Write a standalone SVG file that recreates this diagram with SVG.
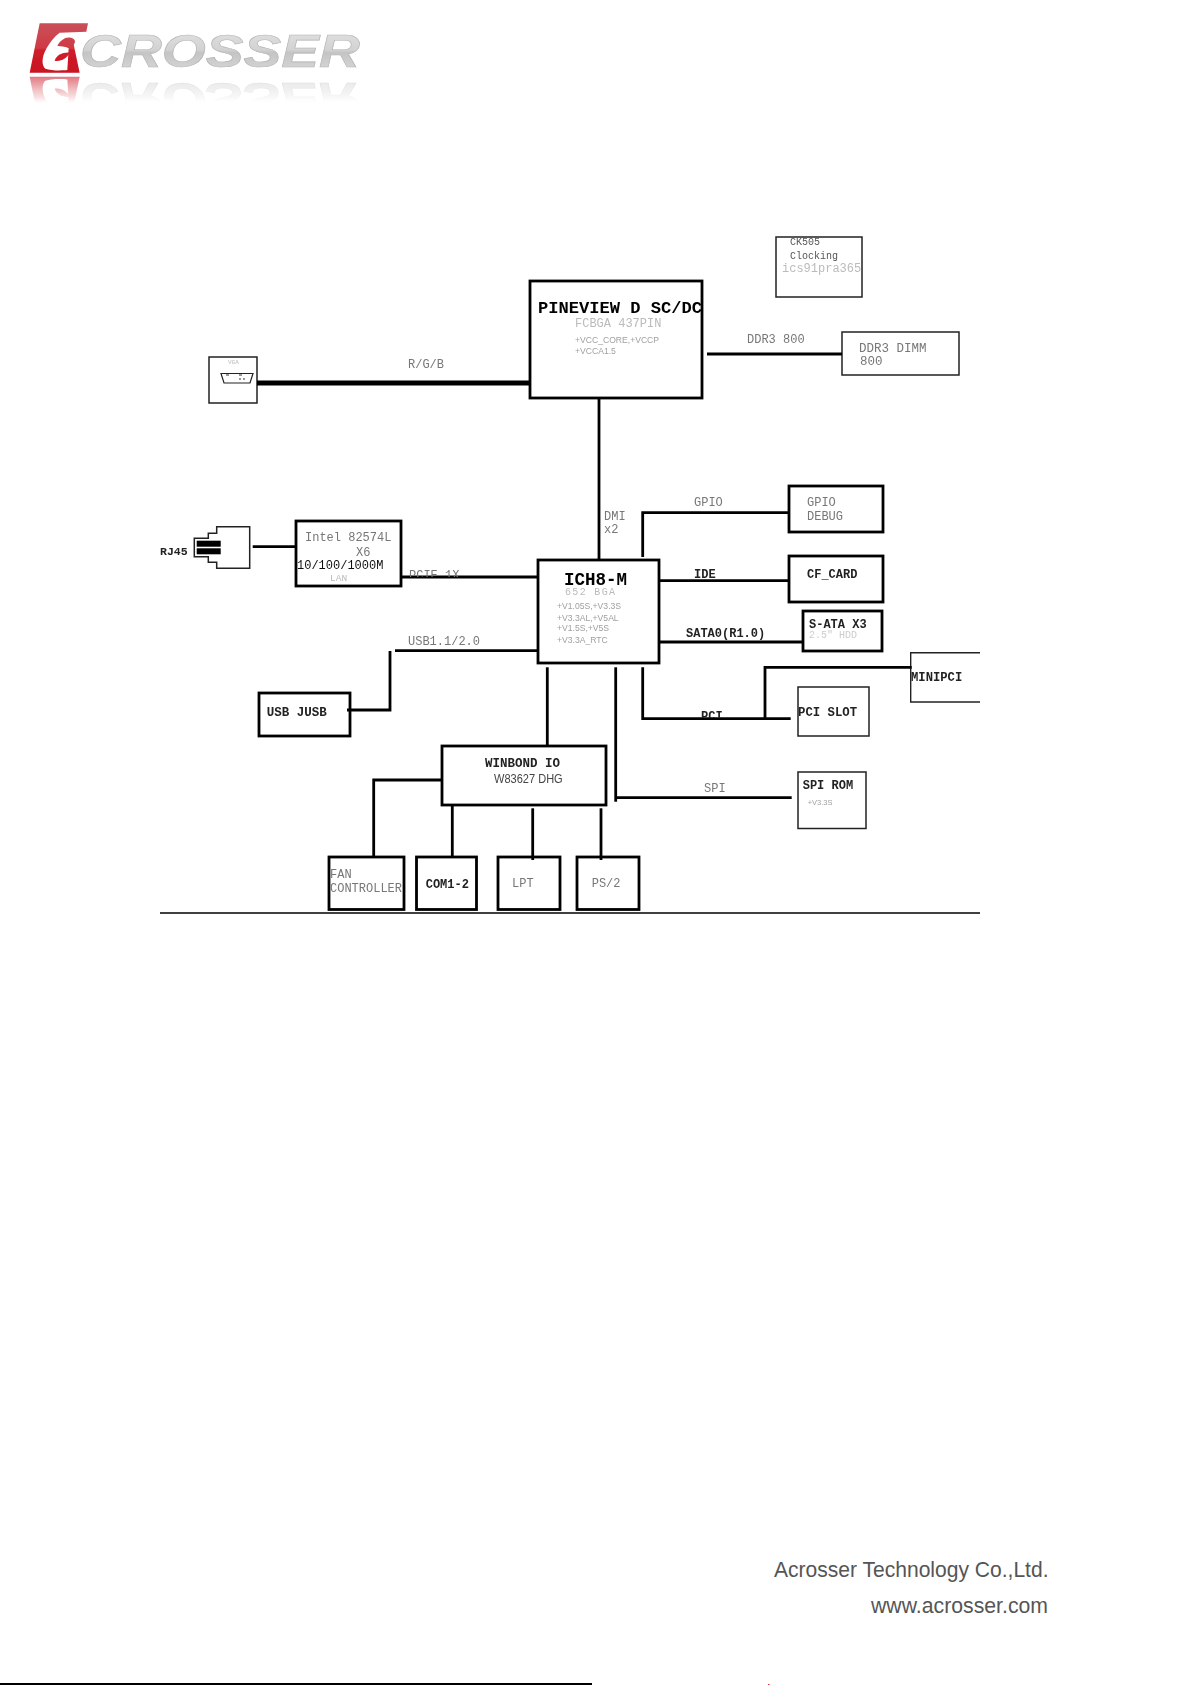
<svg xmlns="http://www.w3.org/2000/svg" xmlns:xlink="http://www.w3.org/1999/xlink" width="1191" height="1685" viewBox="0 0 1191 1685">
<style>
text{font-family:"Liberation Mono",monospace;font-size:12px;fill:#777;white-space:pre}
.d{fill:#222;font-weight:bold}
.h{font-size:17.1px;fill:#000;font-weight:bold}
.l{fill:#bbb}
.s{font-family:"Liberation Sans",sans-serif;font-size:8.6px;fill:#a0a0a0}
.b{fill:#fff;stroke:#000;stroke-width:2.8}
.t{fill:#fff;stroke:#222;stroke-width:1.5}
.c{fill:none;stroke:#000;stroke-width:2.8}
.f{font-family:"Liberation Sans",sans-serif;font-size:22px;fill:#555}
</style>
<defs>
<filter id="soft" filterUnits="userSpaceOnUse" x="0" y="0" width="1191" height="1685"><feGaussianBlur stdDeviation="0.35"/></filter>
<filter id="softer" filterUnits="userSpaceOnUse" x="0" y="0" width="400" height="130"><feGaussianBlur stdDeviation="0.5"/></filter>
<linearGradient id="red" x1="0" y1="0" x2="0" y2="1"><stop offset="0" stop-color="#c9505a"/><stop offset=".5" stop-color="#cf3a44"/><stop offset=".55" stop-color="#d01c2a"/><stop offset="1" stop-color="#c81422"/></linearGradient>
<linearGradient id="grey" x1="0" y1="0" x2="0" y2="1"><stop offset="0" stop-color="#e6e6e6"/><stop offset=".5" stop-color="#d2d2d2"/><stop offset=".55" stop-color="#c4c4c4"/><stop offset="1" stop-color="#dcdcdc"/></linearGradient>
<linearGradient id="fade" gradientUnits="userSpaceOnUse" x1="0" y1="75" x2="0" y2="103"><stop offset="0" stop-color="#fff" stop-opacity=".6"/><stop offset="1" stop-color="#fff" stop-opacity="0"/></linearGradient>
<mask id="fm" maskUnits="userSpaceOnUse" x="0" y="70" width="400" height="40"><rect x="0" y="70" width="400" height="40" fill="url(#fade)"/></mask>
<clipPath id="cPine"><rect x="530" y="281" width="172" height="117"/></clipPath>
<clipPath id="cLan"><rect x="296" y="521" width="105" height="65"/></clipPath>
<clipPath id="cPcie"><rect x="400" y="560" width="70" height="17"/></clipPath>
<clipPath id="cPci"><rect x="690" y="700" width="40" height="18"/></clipPath>
<clipPath id="cMini"><rect x="910" y="652" width="71" height="51"/></clipPath>
<clipPath id="cCk"><rect x="776" y="237" width="86" height="60"/></clipPath>
</defs>
<g id="logo" filter="url(#softer)">
<g id="logoArt">
<text x="80" y="66.5" textLength="280" lengthAdjust="spacingAndGlyphs" style="font-family:'Liberation Sans',sans-serif;font-weight:bold;font-style:italic;font-size:47px;fill:url(#grey);stroke:#b4b4b4;stroke-width:.6">CROSSER</text>
<g transform="translate(28 20) scale(.3333)">
<path d="M35,10 L180,10 L175,35 L95,38 C78,50 62,72 52,92 C42,112 40,135 52,146 C68,152 100,152 118,150 L122,85 C110,78 95,80 88,78 C92,68 100,60 112,54 C124,50 140,54 141,64 C141,70 136,74 138,78 L155,158 L5,158 Z" fill="url(#red)"/>
<path d="M80,122 C85,105 105,96 126,98 C118,112 100,126 80,122Z" fill="#d01c2a"/>
</g>
</g>
<g mask="url(#fm)"><use xlink:href="#logoArt" href="#logoArt" transform="translate(0 149.5) scale(1 -1)"/></g>
</g>
<g filter="url(#soft)">
<g id="pineview"><rect class="b" x="530" y="281" width="172" height="117"/>
<text class="h" x="538" y="313" clip-path="url(#cPine)">PINEVIEW D SC/DC</text>
<text class="l" x="575" y="327">FCBGA 437PIN</text>
<text class="s" x="575" y="343">+VCC_CORE,+VCCP</text>
<text class="s" x="575" y="354">+VCCA1.5</text></g>
<g id="ck505"><rect class="t" x="776" y="237" width="86" height="60"/>
<text x="790" y="245" style="font-size:10px;fill:#555">CK505</text>
<text x="790" y="259" style="font-size:10px;fill:#555">Clocking</text>
<text class="l" x="782" y="272" clip-path="url(#cCk)">ics91pra365</text></g>
<g id="ddr3"><rect class="t" x="842" y="332" width="117" height="43"/>
<text x="859" y="352" style="font-size:12.5px">DDR3 DIMM</text><text x="860" y="365" style="font-size:12.5px">800</text></g>
<g id="vga"><rect class="t" x="209" y="357" width="48" height="46"/>
<text class="l" x="228" y="364" style="font-size:6px">VGA</text>
<path d="M221,373.5 H253 L250,383 H224 Z" fill="#fff" stroke="#222" stroke-width="1.2"/>
<path d="M226,375 h3 M239,375 h3 M239,379 h2 M243,379 h2" stroke="#333" stroke-width="1"/></g>
<g id="rj45">
<text class="d" x="160" y="555" style="font-size:11.5px">RJ45</text>
<path d="M216.7,526.7 H249.7 V568.3 H216.7 V562.3 H208.3 V556.7 H194.3 V538.3 H208.3 V533.3 H216.7 Z" fill="#fff" stroke="#222" stroke-width="1.5"/>
<rect x="196.7" y="540.7" width="24" height="6" fill="#000"/><rect x="196.7" y="548.3" width="24" height="6" fill="#000"/></g>
<g id="intel"><rect class="b" x="296" y="521" width="105" height="65"/>
<text x="305" y="541">Intel 82574L</text><text x="356" y="555.7">X6</text>
<text x="297" y="568.7" clip-path="url(#cLan)" style="fill:#111">10/100/1000M</text>
<text class="l" x="330" y="580.7" style="font-size:9.5px">LAN</text></g>
<g id="ich8"><rect class="b" x="538" y="560" width="121" height="103"/>
<text class="h" x="564" y="585" style="font-size:17.5px">ICH8-M</text>
<text class="l" x="565" y="595" textLength="50" lengthAdjust="spacing" style="font-size:10px">652 BGA</text>
<text class="s" x="557" y="609">+V1.05S,+V3.3S</text>
<text class="s" x="557" y="621">+V3.3AL,+V5AL</text>
<text class="s" x="557" y="631">+V1.5S,+V5S</text>
<text class="s" x="557" y="643">+V3.3A_RTC</text></g>
<g id="gpio-debug"><rect class="b" x="789" y="486" width="94" height="46"/>
<text x="807" y="506">GPIO</text><text x="807" y="520">DEBUG</text></g>
<g id="cf-card"><rect class="b" x="789" y="556" width="94" height="46"/>
<text class="d" x="807" y="577.7">CF_CARD</text></g>
<g id="sata"><rect class="b" x="803" y="611" width="79" height="40"/>
<text class="d" x="809" y="627.7">S-ATA X3</text>
<text class="l" x="809" y="638" style="font-size:10px;fill:#ccc">2.5" HDD</text></g>
<g id="minipci"><path d="M980,652.7 H910.7 V702 H980" fill="none" stroke="#222" stroke-width="1.4"/>
<text class="d" x="911" y="680.7" clip-path="url(#cMini)" style="font-size:12.2px">MINIPCI</text></g>
<g id="pci-slot"><rect class="t" x="798" y="687" width="71" height="49"/>
<text class="d" x="798" y="716" style="font-size:12.3px">PCI SLOT</text></g>
<g id="usb-jusb"><rect class="b" x="259" y="693" width="91" height="43"/>
<text class="d" x="266.7" y="716" style="font-size:12.5px">USB JUSB</text></g>
<g id="winbond"><rect class="b" x="442" y="746" width="164" height="59"/>
<text class="d" x="485" y="766.7" style="font-size:12.5px">WINBOND IO</text>
<text x="494" y="782.7" textLength="68.7" lengthAdjust="spacingAndGlyphs" style="font-family:'Liberation Sans',sans-serif;font-size:12.5px;fill:#444">W83627 DHG</text></g>
<g id="spi-rom"><rect class="t" x="798" y="772" width="68" height="56.5"/>
<text class="d" x="802.7" y="789">SPI ROM</text>
<text class="s" x="807.7" y="805" style="font-size:7.5px">+V3.3S</text></g>
<g id="fan"><rect class="b" x="329" y="857" width="75" height="52.5"/>
<text x="330" y="878">FAN</text><text x="330" y="891.7">CONTROLLER</text></g>
<g id="com"><rect class="b" x="416.5" y="857" width="60" height="52.5"/>
<text class="d" x="425.7" y="888.3">COM1-2</text></g>
<g id="lpt"><rect class="b" x="498" y="857" width="62" height="52.5"/>
<text x="512" y="887.3">LPT</text></g>
<g id="ps2"><rect class="b" x="577" y="857" width="62" height="52.5"/>
<text x="591.7" y="887.3">PS/2</text></g>
<g id="connectors">
<path class="c" d="M707,354 H842"/>
<path class="c" d="M599,398 V560"/>
<path d="M257,383 H530" fill="none" stroke="#000" stroke-width="5"/>
<path class="c" d="M252.7,546.7 H296"/>
<path class="c" d="M401,577 H538"/>
<path class="c" d="M642.7,557 V512.7 H789"/>
<path class="c" d="M659,580.7 H789"/>
<path class="c" d="M659,642 H803"/>
<path class="c" d="M765,718 V667.3 H911.7"/>
<path class="c" d="M642.7,667.3 V718.7 H790.7"/>
<path class="c" d="M395,650.7 H538"/>
<path class="c" d="M390,651 V710 H347"/>
<path class="c" d="M547.3,667.3 V746"/>
<path class="c" d="M615.7,667.3 V801.7"/>
<path class="c" d="M615.7,797.7 H791.7"/>
<path class="c" d="M442,780 H373.7 V857"/>
<path class="c" d="M452.3,805 V857"/>
<path class="c" d="M532.7,808.3 V860"/>
<path class="c" d="M601,808.3 V860"/>
<path d="M160,913 H980" fill="none" stroke="#000" stroke-width="1.5"/>
<text x="747" y="343">DDR3 800</text>
<text x="408" y="368">R/G/B</text>
<text x="604" y="520">DMI</text><text x="604" y="533">x2</text>
<text x="694" y="506">GPIO</text>
<text class="d" x="694" y="577.7">IDE</text>
<text class="d" x="686" y="636.7">SATA0(R1.0)</text>
<text x="409" y="579" clip-path="url(#cPcie)">PCIE 1X</text>
<text class="d" x="701" y="720" clip-path="url(#cPci)">PCI</text>
<text x="408" y="645">USB1.1/2.0</text>
<text x="704" y="791.7">SPI</text>
</g>
</g>
<g id="footer">
<text class="f" x="774" y="1576.7" textLength="274.5" lengthAdjust="spacingAndGlyphs">Acrosser Technology Co.,Ltd.</text>
<text class="f" x="871" y="1612.7" textLength="177" lengthAdjust="spacingAndGlyphs">www.acrosser.com</text>
<rect x="0" y="1683" width="592" height="2" fill="#000"/>
<rect x="768" y="1684" width="1.5" height="1" fill="#c33"/>
</g>
</svg>
